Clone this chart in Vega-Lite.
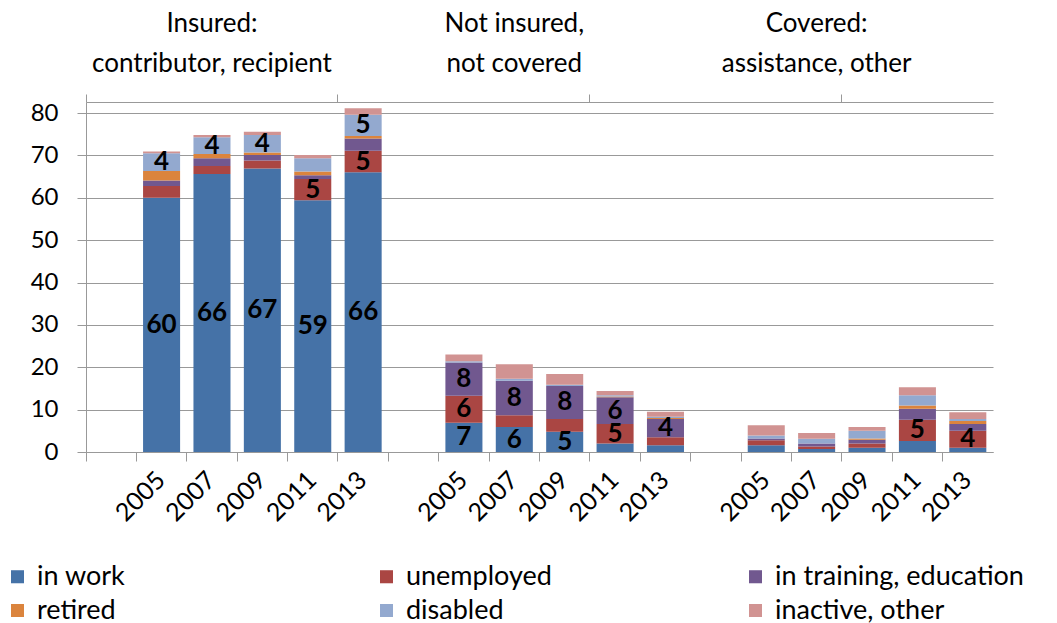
{
  "$schema": "https://vega.github.io/schema/vega-lite/v6.json",
  "autosize": "none",
  "width": 907,
  "height": 350,
  "padding": {"left": 86, "top": 102, "right": 64, "bottom": 171},
  "config": {"font": "Lato", "view": {"stroke": null}},
  "data": {
    "values": [
      {"key": "Insured 2005", "in work": 60.0, "unemployed": 2.8, "in training, education": 1.3, "retired": 2.2, "disabled": 4.2, "inactive, other": 0.4},
      {"key": "Insured 2007", "in work": 65.6, "unemployed": 1.9, "in training, education": 1.8, "retired": 1.0, "disabled": 4.0, "inactive, other": 0.5},
      {"key": "Insured 2009", "in work": 66.9, "unemployed": 1.9, "in training, education": 1.3, "retired": 0.6, "disabled": 4.1, "inactive, other": 0.8},
      {"key": "Insured 2011", "in work": 59.4, "unemployed": 5.0, "in training, education": 0.9, "retired": 0.9, "disabled": 3.1, "inactive, other": 0.8},
      {"key": "Insured 2013", "in work": 66.0, "unemployed": 5.1, "in training, education": 2.9, "retired": 0.6, "disabled": 5.0, "inactive, other": 1.5},
      {"key": "Not insured 2005", "in work": 6.9, "unemployed": 6.4, "in training, education": 7.8, "retired": 0.0, "disabled": 0.3, "inactive, other": 1.6},
      {"key": "Not insured 2007", "in work": 5.9, "unemployed": 2.8, "in training, education": 8.1, "retired": 0.0, "disabled": 0.5, "inactive, other": 3.4},
      {"key": "Not insured 2009", "in work": 4.8, "unemployed": 3.0, "in training, education": 7.8, "retired": 0.0, "disabled": 0.3, "inactive, other": 2.5},
      {"key": "Not insured 2011", "in work": 2.0, "unemployed": 4.6, "in training, education": 6.3, "retired": 0.2, "disabled": 0.3, "inactive, other": 1.0},
      {"key": "Not insured 2013", "in work": 1.6, "unemployed": 1.9, "in training, education": 4.3, "retired": 0.2, "disabled": 0.3, "inactive, other": 1.2},
      {"key": "Covered 2005", "in work": 1.6, "unemployed": 1.2, "in training, education": 0.4, "retired": 0.0, "disabled": 0.7, "inactive, other": 2.4},
      {"key": "Covered 2007", "in work": 0.7, "unemployed": 0.6, "in training, education": 0.7, "retired": 0.0, "disabled": 1.1, "inactive, other": 1.4},
      {"key": "Covered 2009", "in work": 1.0, "unemployed": 1.0, "in training, education": 0.9, "retired": 0.3, "disabled": 1.8, "inactive, other": 0.9},
      {"key": "Covered 2011", "in work": 2.6, "unemployed": 5.0, "in training, education": 2.6, "retired": 0.8, "disabled": 2.4, "inactive, other": 1.9},
      {"key": "Covered 2013", "in work": 1.0, "unemployed": 4.0, "in training, education": 1.6, "retired": 0.7, "disabled": 0.5, "inactive, other": 1.6}
    ]
  },
  "transform": [
    {"fold": ["in work", "unemployed", "in training, education", "retired", "disabled", "inactive, other"], "as": ["category", "value"]},
    {"calculate": "indexof(['in work', 'unemployed', 'in training, education', 'retired', 'disabled', 'inactive, other'], datum.category)", "as": "idx"}
  ],
  "resolve": {"axis": {"x": "independent"}},
  "layer": [
    {
      "mark": {"type": "bar", "width": {"band": 0.735}},
      "encoding": {
        "x": {
          "field": "key", "type": "nominal",
          "scale": {
            "domain": ["gap0", "Insured 2005", "Insured 2007", "Insured 2009", "Insured 2011", "Insured 2013", "gap1", "Not insured 2005", "Not insured 2007", "Not insured 2009", "Not insured 2011", "Not insured 2013", "gap2", "Covered 2005", "Covered 2007", "Covered 2009", "Covered 2011", "Covered 2013"],
            "paddingInner": 0, "paddingOuter": 0
          },
          "axis": {
            "orient": "bottom", "title": null, "bandPosition": 0, "tickSize": 9, "tickColor": "#999999", "domainColor": "#999999",
            "labelExpr": "indexof(datum.value, 'gap') === 0 ? '' : slice(datum.value, -4)",
            "labelAngle": -45, "labelPadding": 6, "labelOffset": -9,
            "labelFontSize": 25, "labelColor": "#000000"
          }
        },
        "y": {
          "field": "value", "type": "quantitative", "stack": "zero",
          "scale": {"domain": [0, 82.6], "nice": false},
          "axis": {
            "title": null, "values": [0, 10, 20, 30, 40, 50, 60, 70, 80], "grid": true, "gridColor": "#999999",
            "domainColor": "#999999", "tickColor": "#999999", "tickSize": 9, "labelPadding": 19,
            "labelFontSize": 24, "labelColor": "#000000"
          }
        },
        "color": {
          "field": "category", "type": "nominal",
          "scale": {
            "domain": ["in work", "unemployed", "in training, education", "retired", "disabled", "inactive, other"],
            "range": ["#4572A7", "#AA4643", "#71588F", "#DB843D", "#93A9CF", "#D19392"]
          },
          "legend": {
            "title": null, "orient": "none", "legendX": -82, "legendY": 461, "columns": 3, "direction": "horizontal",
            "symbolType": "square", "symbolSize": 170, "labelFontSize": 27, "labelLimit": 400, "gridAlign": "all",
            "labelColor": "#000000", "labelOffset": 6, "columnPadding": 87, "rowPadding": 6
          }
        },
        "order": {"field": "idx", "type": "quantitative"}
      }
    },
    {
      "transform": [
        {"stack": "value", "groupby": ["key"], "sort": [{"field": "idx"}], "as": ["v0", "v1"]},
        {"filter": "datum.value >= 3.95"},
        {"calculate": "(datum.v0 + datum.v1) / 2", "as": "mid"}
      ],
      "mark": {"type": "text", "fontSize": 26, "fontWeight": "bold", "color": "#000000", "baseline": "middle", "align": "center"},
      "encoding": {
        "x": {
          "field": "key", "type": "nominal",
          "axis": {
            "orient": "top", "title": null, "bandPosition": 0, "labels": false, "tickSize": 8, "tickColor": "#999999", "domainColor": "#999999",
            "values": ["gap0", "Insured 2013", "Not insured 2011", "Covered 2009"]
          }
        },
        "y": {
          "field": "mid", "type": "quantitative",
          "axis": {
            "title": null, "values": [0, 10, 20, 30, 40, 50, 60, 70, 80], "grid": true, "gridColor": "#999999",
            "domainColor": "#999999", "tickColor": "#999999", "tickSize": 9, "labelPadding": 19,
            "labelFontSize": 24, "labelColor": "#000000"
          }
        },
        "text": {"field": "value", "type": "quantitative", "format": ".0f"}
      }
    },
    {
      "mark": {"type": "text", "opacity": 0},
      "encoding": {
        "x": {
          "field": "key", "type": "nominal",
          "axis": {
            "orient": "top", "title": null, "domain": false, "ticks": false,
            "values": ["Insured 2007", "Not insured 2007", "Covered 2007"],
            "labelExpr": "datum.value === 'Insured 2007' ? 'contributor, recipient' : datum.value === 'Not insured 2007' ? 'not covered' : 'assistance, other'",
            "labelAngle": 0, "labelFontSize": 26, "labelPadding": 26, "labelLimit": 400, "labelColor": "#000000"
          }
        },
        "text": {"value": ""}
      }
    },
    {
      "mark": {"type": "text", "opacity": 0},
      "encoding": {
        "x": {
          "field": "key", "type": "nominal",
          "axis": {
            "orient": "top", "title": null, "domain": false, "ticks": false, "offset": 40,
            "values": ["Insured 2007", "Not insured 2007", "Covered 2007"],
            "labelExpr": "datum.value === 'Insured 2007' ? 'Insured:' : datum.value === 'Not insured 2007' ? 'Not insured,' : 'Covered:'",
            "labelAngle": 0, "labelFontSize": 26, "labelPadding": 26, "labelLimit": 400, "labelColor": "#000000"
          }
        },
        "text": {"value": ""}
      }
    }
  ]
}
